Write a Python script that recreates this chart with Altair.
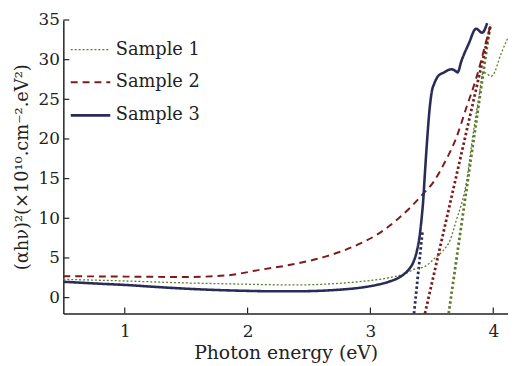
import altair as alt
import pandas as pd

names = ["Sample 1", "Sample 2", "Sample 3"]
colors = ["#5e7a2e", "#7a1c1c", "#2a2b58"]

s1_x = [0.5, 1.0, 1.5, 1.83, 2.37, 2.9, 3.18, 3.28, 3.36, 3.44, 3.52, 3.59, 3.65, 3.7, 3.75, 3.78, 3.83, 3.88, 3.92, 3.95, 3.98, 4.0, 4.06, 4.12]
s1_y = [2.3, 2.1, 1.85, 1.74, 1.6, 2.0, 2.6, 3.0, 3.6, 3.9, 4.9, 5.9, 7.3, 9.8, 12.3, 14.4, 20.0, 25.0, 28.4, 28.2, 27.9, 28.1, 30.6, 32.8]

s2_x = [0.5, 1.0, 1.5, 1.83, 2.1, 2.37, 2.64, 2.9, 3.06, 3.23, 3.34, 3.43, 3.51, 3.6, 3.7, 3.78, 3.86, 3.9, 3.94, 3.98]
s2_y = [2.7, 2.65, 2.6, 2.8, 3.5, 4.2, 5.2, 6.7, 8.0, 10.0, 11.6, 13.1, 14.5, 16.9, 20.2, 23.9, 27.6, 29.8, 32.2, 34.4]

s3_x = [0.5, 0.8, 1.0, 1.3, 1.6, 2.0, 2.2, 2.4, 2.7, 2.94, 3.05, 3.15, 3.26, 3.31, 3.35, 3.38, 3.4, 3.42, 3.43, 3.44, 3.46, 3.48, 3.5, 3.52, 3.55, 3.6, 3.66, 3.69, 3.71, 3.74, 3.8, 3.86, 3.91, 3.95]
s3_y = [2.0, 1.75, 1.6, 1.3, 1.05, 0.85, 0.8, 0.8, 0.95, 1.3, 1.6, 2.0, 2.8, 3.5, 4.5, 6.0, 7.7, 10.5, 12.3, 14.8, 19.5, 23.5, 26.0, 27.0, 27.9, 28.4, 28.8, 28.6, 28.4, 29.8, 32.0, 33.9, 33.4, 34.6]

# tangent (extrapolation) lines: [x_start, x_end], [y_start, y_end]
t1_x = [3.637, 3.975]
t1_y = [-2.0, 34.4]
t2_x = [3.444, 3.98]
t2_y = [-2.0, 34.4]
t3_x = [3.355, 3.425]
t3_y = [-2.0, 8.5]

x_ticks = [1, 2, 3, 4]
y_ticks = [0, 5, 10, 15, 20, 25, 30, 35]

rows = []
for n, xs, ys in zip(names, [s1_x, s2_x, s3_x], [s1_y, s2_y, s3_y]):
    for a, b in zip(xs, ys):
        rows.append({"series": n, "x": a, "y": b})
df = pd.DataFrame(rows)

FONT = "DejaVu Serif, Liberation Serif, serif"
TXT = "#222222"

x_scale = alt.Scale(domain=[0.5, 4.12], nice=False, zero=False)
y_scale = alt.Scale(domain=[-2, 35], nice=False, zero=False)

x_enc = alt.X("x:Q", scale=x_scale,
              axis=alt.Axis(values=x_ticks, format="d", title="Photon energy (eV)", ticks=False,
                            grid=False, labelPadding=10, titlePadding=5, titleFontSize=19))
y_enc = alt.Y("y:Q", scale=y_scale,
              axis=alt.Axis(values=y_ticks, format="d", title="(αhν)²(×10¹⁰.cm⁻².eV²)", ticks=False,
                            grid=False, labelPadding=4, titlePadding=7, titleFontSize=18))

leg = dict(title=None, orient="none", legendX=6, legendY=9,
           symbolType="stroke", symbolSize=1600, symbolStrokeWidth=2.2,
           labelFont=FONT, labelFontSize=18, labelColor=TXT, rowPadding=3, labelOffset=4)

curves = alt.Chart(df).mark_line(interpolate="monotone").encode(
    x=x_enc,
    y=y_enc,
    color=alt.Color("series:N", scale=alt.Scale(domain=names, range=colors),
                    legend=alt.Legend(**leg)),
    strokeDash=alt.StrokeDash("series:N",
                              scale=alt.Scale(domain=names, range=[[2, 2], [7, 5], [1, 0]]),
                              legend=alt.Legend(**leg)),
    strokeWidth=alt.StrokeWidth("series:N",
                                scale=alt.Scale(domain=names, range=[1.3, 2.6, 2.6]),
                                legend=None),
    order="x:Q",
)

layers = []
for tx, ty, c in zip([t1_x, t2_x, t3_x], [t1_y, t2_y, t3_y], colors):
    tdf = pd.DataFrame({"x": tx, "y": ty})
    layers.append(alt.Chart(tdf).mark_line(color=c, strokeWidth=2.8, strokeDash=[2.5, 2.5]).encode(
        x=alt.X("x:Q", scale=x_scale), y=alt.Y("y:Q", scale=y_scale)))

xt = alt.Chart(pd.DataFrame({"t": x_ticks})).mark_rule(color=TXT, strokeWidth=1.2).encode(
    x=alt.X("t:Q", scale=x_scale), y=alt.value(297), y2=alt.value(291))
yt = alt.Chart(pd.DataFrame({"t": y_ticks})).mark_rule(color=TXT, strokeWidth=1.2).encode(
    y=alt.Y("t:Q", scale=y_scale), x=alt.value(0), x2=alt.value(6))

chart = alt.layer(*layers, curves, xt, yt).properties(
    width=450, height=297,
    autosize=alt.AutoSizeParams(type="none"),
    padding={"left": 56, "top": 10, "right": 0, "bottom": 50},
).configure_view(stroke=None).configure_axis(
    domainColor=TXT, domainWidth=1.5, labelFont=FONT, labelFontSize=17, labelColor=TXT,
    titleFont=FONT, titleColor=TXT, titleFontWeight="normal",
)

chart.save("out.html", embed_options={"renderer": "svg", "actions": False})
